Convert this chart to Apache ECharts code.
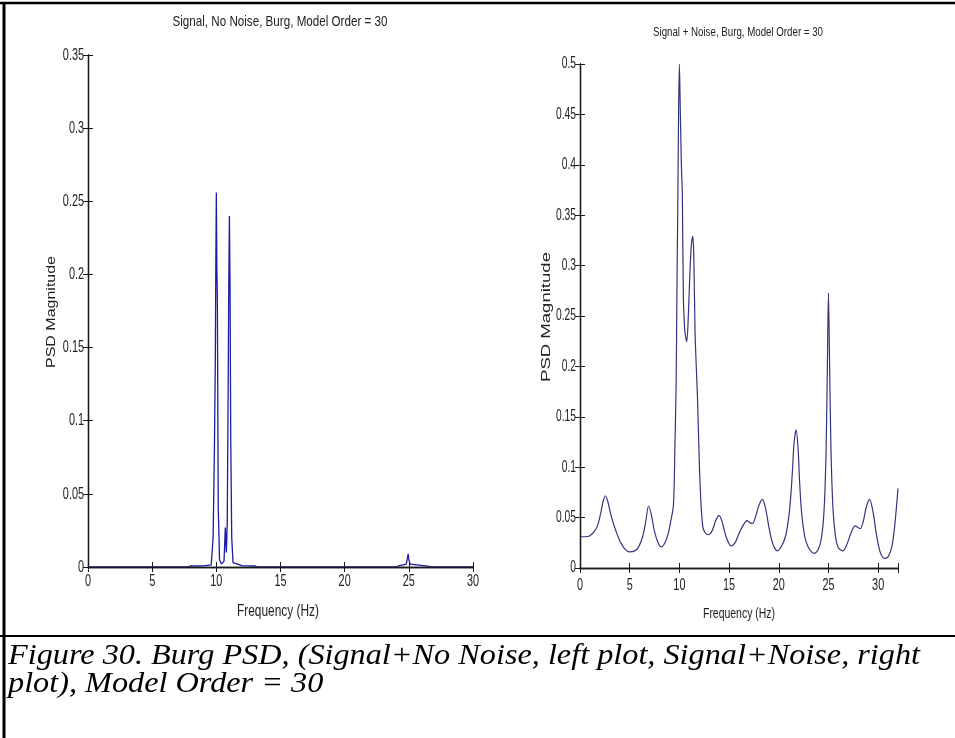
<!DOCTYPE html>
<html>
<head>
<meta charset="utf-8">
<title>Burg PSD, Model Order = 30</title>
<script src="https://cdn.jsdelivr.net/npm/echarts@6/dist/echarts.min.js"></script>
<style>
  html, body { margin: 0; padding: 0; background: #fff; }
  #chart { width: 955px; height: 738px; }
</style>
</head>
<body>
<div id="chart"></div>
<script>
// Signal, no noise: Burg PSD estimate (frequency in Hz, PSD magnitude)
const cleanFreq = [0, 7.8, 8.0, 9.0, 9.6, 9.75, 9.85, 9.92, 9.96, 10.0, 10.04, 10.08, 10.15, 10.25, 10.4,
  10.6, 10.7, 10.78, 10.85, 10.92, 10.97, 11.02, 11.07, 11.12, 11.2, 11.3, 12.0, 13.0, 13.2,
  24.0, 24.2, 24.8, 24.95, 25.0, 25.1, 26.5, 26.7, 30];
const cleanPsd = [0, 0, 0.0007, 0.0008, 0.0015, 0.02, 0.08, 0.14, 0.205, 0.256, 0.205, 0.183, 0.04, 0.005, 0.002,
  0.004, 0.027, 0.01, 0.03, 0.12, 0.194, 0.24, 0.19, 0.09, 0.02, 0.003, 0.001, 0.0007, 0,
  0, 0.0007, 0.002, 0.009, 0.005, 0.002, 0.0006, 0, 0];

// Signal + noise: Burg PSD estimate
const noisyFreq = [0, 0.5, 1.0, 1.5, 1.8, 2.1, 2.3, 2.55, 2.8, 3.1, 3.5, 4.0, 4.5, 5.0, 5.5, 5.9, 6.3, 6.6, 6.9,
  7.2, 7.5, 7.9, 8.2, 8.6, 8.9, 9.1, 9.4, 9.55, 9.67, 9.75, 9.85, 9.93, 10.0, 10.1, 10.2, 10.3, 10.4,
  10.55, 10.74, 10.9, 11.05, 11.2, 11.35, 11.45, 11.58, 11.7, 11.82, 12.08, 12.35, 12.6, 12.92,
  13.3, 13.7, 14.0, 14.3, 14.7, 15.2, 15.6, 16.0, 16.4, 16.8, 17.1, 17.35, 17.7, 18.0, 18.36, 18.7,
  19.0, 19.4, 19.87, 20.3, 20.7, 21.0, 21.2, 21.4, 21.55, 21.75, 21.95, 22.1, 22.3, 22.6, 22.9, 23.3,
  23.6, 24.0, 24.3, 24.55, 24.75, 24.88, 25.0, 25.12, 25.25, 25.45, 25.7, 26.0, 26.45, 26.8, 27.2,
  27.5, 27.7, 28.0, 28.2, 28.5, 28.8, 29.14, 29.5, 29.8, 30.2, 30.65, 31.0, 31.4, 31.7, 32.0];
const noisyPsd = [0.031, 0.031, 0.032, 0.037, 0.043, 0.055, 0.065, 0.0717, 0.066, 0.053, 0.040, 0.027, 0.019,
  0.016, 0.017, 0.021, 0.031, 0.045, 0.0615, 0.052, 0.036, 0.024, 0.021, 0.026, 0.035, 0.045, 0.062,
  0.12, 0.18, 0.27, 0.37, 0.46, 0.50, 0.45, 0.40, 0.37, 0.27, 0.235, 0.2245, 0.25, 0.29, 0.32, 0.329,
  0.31, 0.233, 0.2, 0.17, 0.084, 0.041, 0.035, 0.033, 0.037, 0.048, 0.052, 0.046, 0.031, 0.022,
  0.025, 0.034, 0.042, 0.047, 0.045, 0.044, 0.052, 0.062, 0.068, 0.058, 0.041, 0.024, 0.017, 0.022,
  0.032, 0.05, 0.07, 0.1, 0.125, 0.137, 0.118, 0.085, 0.055, 0.032, 0.022, 0.016, 0.0146, 0.019,
  0.03, 0.055, 0.11, 0.19, 0.273, 0.2, 0.12, 0.06, 0.032, 0.02, 0.017, 0.022, 0.033, 0.04, 0.0417,
  0.04, 0.039, 0.046, 0.06, 0.068, 0.055, 0.035, 0.016, 0.0096, 0.011, 0.022, 0.045, 0.079];

// Tick values of the two panels
const leftXTicks = [0, 5, 10, 15, 20, 25, 30];
const leftYTicks = [0, 0.05, 0.1, 0.15, 0.2, 0.25, 0.3, 0.35];
const rightXTicks = [0, 5, 10, 15, 20, 25, 30];
const rightYTicks = [0, 0.05, 0.1, 0.15, 0.2, 0.25, 0.3, 0.35, 0.4, 0.45, 0.5];

const titles = ['Signal, No Noise, Burg, Model Order = 30', 'Signal + Noise, Burg, Model Order = 30'];
const xName = 'Frequency (Hz)';
const yName = 'PSD Magnitude';
const captionLines = ['Figure 30. Burg PSD, (Signal+No Noise, left plot, Signal+Noise, right',
  'plot), Model Order = 30'];

const pairs = (xs, ys) => xs.map((x, i) => [x, ys[i]]);
const fmt = v => String(+(+v).toFixed(2));
const SANS = '"Liberation Sans", Arial, Helvetica, sans-serif';
const SERIF = '"Times New Roman", "Liberation Serif", serif';
const INK = '#222';

// text measuring, used to squeeze the plot lettering into its narrow MATLAB look
const measureCtx = document.createElement('canvas').getContext('2d');
function textWidth(text, font) {
  measureCtx.font = font;
  return measureCtx.measureText(text).width;
}

function frameAxes(kind, gridIndex, max, interval) {
  const common = {
    type: 'value', gridIndex, min: 0, max, interval,
    splitLine: { show: false },
    axisLabel: { show: false },
    axisLine: { show: true, lineStyle: { color: '#1a1a1a', width: 1.3 } },
    axisTick: { show: true, inside: true, length: 5, lineStyle: { color: '#1a1a1a' } }
  };
  const sides = kind === 'x' ? ['bottom', 'top'] : ['left', 'right'];
  return [
    Object.assign({}, common, { position: sides[0], z: 3 }),
    Object.assign({}, common, { position: sides[1] })
  ];
}

const chart = echarts.init(document.getElementById('chart'), null, { renderer: 'canvas' });

chart.setOption({
  backgroundColor: '#ffffff',
  animation: false,
  grid: [
    { left: 88, top: 55, width: 385, height: 512 },
    { left: 580, top: 64, width: 318, height: 504 }
  ],
  xAxis: [].concat(frameAxes('x', 0, 30, 5), frameAxes('x', 1, 32, 5)),
  yAxis: [].concat(frameAxes('y', 0, 0.35, 0.05), frameAxes('y', 1, 0.5, 0.05)),
  series: [
    { type: 'line', xAxisIndex: 0, yAxisIndex: 0, data: pairs(cleanFreq, cleanPsd),
      showSymbol: false, symbol: 'none', z: 2,
      lineStyle: { color: '#1c1ca6', width: 1.3 } },
    { type: 'line', xAxisIndex: 2, yAxisIndex: 2, data: pairs(noisyFreq, noisyPsd),
      showSymbol: false, symbol: 'none', smooth: 0.3, z: 2,
      lineStyle: { color: '#34347f', width: 1.2 } }
  ]
});

// condensed text element centred (or anchored) on x, y
function squeezed(text, x, y, opt) {
  const font = opt.font;
  const sx = opt.width ? opt.width / textWidth(text, font) : (opt.scaleX || 1);
  return {
    type: 'text', x, y, rotation: opt.rotation || 0,
    scaleX: sx, scaleY: 1, z: 10,
    style: { text, font, fill: opt.fill || INK,
      align: opt.align || 'center', verticalAlign: opt.verticalAlign || 'middle' }
  };
}

const tickSqueeze = 0.64;
const graphics = [];

// tick labels, placed with the axes' own scales
function xTickLabels(xAxisIndex, yAxisIndex, ticks, dy, font) {
  ticks.forEach(v => {
    const p = chart.convertToPixel({ xAxisIndex, yAxisIndex }, [v, 0]);
    graphics.push(squeezed(fmt(v), p[0], p[1] + dy, { font, scaleX: tickSqueeze }));
  });
}
function yTickLabels(xAxisIndex, yAxisIndex, ticks, dx, font) {
  ticks.forEach(v => {
    const p = chart.convertToPixel({ xAxisIndex, yAxisIndex }, [0, v]);
    graphics.push(squeezed(fmt(v), p[0] - dx, p[1], { font, scaleX: tickSqueeze, align: 'right' }));
  });
}
xTickLabels(0, 0, leftXTicks, 14, '17px ' + SANS);
yTickLabels(0, 0, leftYTicks, 4, '17px ' + SANS);
xTickLabels(2, 2, rightXTicks, 17, '17px ' + SANS);
yTickLabels(2, 2, rightYTicks, 4, '16px ' + SANS);

// panel titles and axis names
graphics.push(squeezed(titles[0], 280, 22, { font: '15px ' + SANS, width: 215 }));
graphics.push(squeezed(titles[1], 738, 32, { font: '13px ' + SANS, width: 170 }));
graphics.push(squeezed(xName, 278, 612, { font: '16px ' + SANS, width: 82 }));
graphics.push(squeezed(xName, 739, 614, { font: '14px ' + SANS, width: 72 }));
graphics.push(squeezed(yName, 52, 312, { font: '12px ' + SANS, width: 112, rotation: Math.PI / 2 }));
graphics.push(squeezed(yName, 546, 317, { font: '13px ' + SANS, width: 130, rotation: Math.PI / 2 }));

// table frame around the figure and its caption
graphics.push({ type: 'line', shape: { x1: 4, y1: 2, x2: 4, y2: 738 }, style: { stroke: '#000', lineWidth: 3 } });
graphics.push({ type: 'line', shape: { x1: 0, y1: 3, x2: 955, y2: 3 }, style: { stroke: '#000', lineWidth: 2.5 } });
graphics.push({ type: 'line', shape: { x1: 0, y1: 636, x2: 955, y2: 636 }, style: { stroke: '#000', lineWidth: 2 } });

// caption, stretched to the width of the cell
const capFont = 'italic 29px ' + SERIF;
const capScale = 912 / textWidth(captionLines[0], capFont);
graphics.push(squeezed(captionLines[0], 8, 656, { font: capFont, scaleX: capScale, align: 'left', fill: '#000' }));
graphics.push(squeezed(captionLines[1], 8, 684, { font: capFont, scaleX: capScale, align: 'left', fill: '#000' }));

chart.setOption({ graphic: graphics });
</script>
</body>
</html>
